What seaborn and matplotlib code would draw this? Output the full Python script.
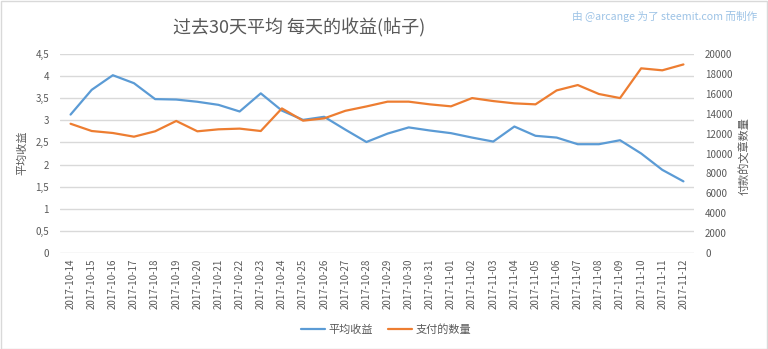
import matplotlib
matplotlib.use('Agg')
import matplotlib.pyplot as plt
import matplotlib.patches as mpatches
from matplotlib.lines import Line2D
import seaborn as sns
import pandas as pd
import numpy as np

dates = ['2017-10-14', '2017-10-15', '2017-10-16', '2017-10-17', '2017-10-18', '2017-10-19',
         '2017-10-20', '2017-10-21', '2017-10-22', '2017-10-23', '2017-10-24', '2017-10-25',
         '2017-10-26', '2017-10-27', '2017-10-28', '2017-10-29', '2017-10-30', '2017-10-31',
         '2017-11-01', '2017-11-02', '2017-11-03', '2017-11-04', '2017-11-05', '2017-11-06',
         '2017-11-07', '2017-11-08', '2017-11-09', '2017-11-10', '2017-11-11', '2017-11-12']
avg_reward = [3.13, 3.69, 4.02, 3.84, 3.48, 3.47, 3.42, 3.35, 3.20, 3.61, 3.22, 3.01,
              3.08, 2.79, 2.51, 2.70, 2.84, 2.77, 2.71, 2.61, 2.52, 2.86, 2.65, 2.61,
              2.46, 2.46, 2.55, 2.25, 1.88, 1.62]
paid_posts = [12990, 12260, 12060, 11690, 12230, 13270, 12230, 12430, 12500, 12260, 14530, 13300,
              13530, 14290, 14730, 15210, 15210, 14940, 14740, 15570, 15270, 15040, 14940, 16340,
              16880, 15980, 15570, 18560, 18360, 18950]
left_ticks = [0, 0.5, 1, 1.5, 2, 2.5, 3, 3.5, 4, 4.5]
left_tick_labels = ['0', '0,5', '1', '1,5', '2', '2,5', '3', '3,5', '4', '4,5']
right_ticks = [0, 2000, 4000, 6000, 8000, 10000, 12000, 14000, 16000, 18000, 20000]

title = '过去30天平均 每天的收益(帖子)'
credit = '由 @arcange 为了 steemit.com 而制作'
left_label = '平均收益'
right_label = '付款的文章数量'
series_names = ['平均收益', '支付的数量']

BLUE = '#5B9BD5'
ORANGE = '#ED7D31'
GRID = '#D9D9D9'
TXT = '#595959'

sns.set_theme(style='white')
plt.rcParams['font.family'] = ['Noto Sans CJK SC', 'DejaVu Sans']

df = pd.DataFrame({'date': dates, 'avg': avg_reward, 'paid': paid_posts})

W, H = 768, 349
fig = plt.figure(figsize=(W / 100, H / 100), dpi=100)
fig.patches.append(mpatches.Rectangle((0.5 / W, 0.5 / H), 1 - 1.5 / W, 1 - 1.5 / H,
                                      transform=fig.transFigure, fill=False,
                                      edgecolor='#D9D9D9', lw=1))

ax = fig.add_axes([60 / W, 1 - 253 / H, (694 - 60) / W, (253 - 54) / H])
sns.lineplot(data=df, x='date', y='avg', ax=ax, color=BLUE, lw=1.6, sort=False)
ax2 = ax.twinx()
sns.lineplot(data=df, x='date', y='paid', ax=ax2, color=ORANGE, lw=1.6, sort=False)

ax.set_xlim(-0.5, len(dates) - 0.5)
ax.set_ylim(0, 4.5)
ax2.set_ylim(0, 20000)
ax.set_yticks(left_ticks)
ax.set_yticklabels(left_tick_labels)
ax2.set_yticks(right_ticks)
ax2.set_yticklabels([str(t) for t in right_ticks])
ax.set_xticks(range(len(dates)))
ax.set_xticklabels(dates, rotation=90)

ax.grid(axis='y', color=GRID, lw=1)
ax.grid(axis='x', visible=False)
ax2.grid(False)
for a in (ax, ax2):
    for s in a.spines.values():
        s.set_visible(False)
    a.set_xlabel('')
    a.set_ylabel('')
ax.tick_params(axis='both', length=0, labelsize=7, labelcolor=TXT)
ax.tick_params(axis='y', pad=8)
ax.tick_params(axis='x', pad=4)
ax2.tick_params(axis='y', length=0, labelsize=7, labelcolor=TXT, pad=8)

fig.text(299 / W, 1 - 28 / H, title, ha='center', va='center', fontsize=13, color=TXT)
fig.text(757 / W, 1 - 16 / H, credit, ha='right', va='center', fontsize=7.7, color='#9DC3E6')
fig.text(22 / W, 1 - 153 / H, left_label, rotation=90, ha='center', va='center',
         fontsize=8, color=TXT)
fig.text(745 / W, 1 - 156 / H, right_label, rotation=90, ha='center', va='center',
         fontsize=8, color=TXT)

handles = [Line2D([], [], color=BLUE, lw=1.6), Line2D([], [], color=ORANGE, lw=1.6)]
fig.legend(handles, series_names, loc='center', bbox_to_anchor=(386 / W, 1 - 330 / H),
           ncol=2, frameon=False, fontsize=8, labelcolor=TXT, handlelength=2.2,
           handletextpad=0.3, columnspacing=1.3)

fig.savefig('out.png', dpi=100, facecolor='white')
